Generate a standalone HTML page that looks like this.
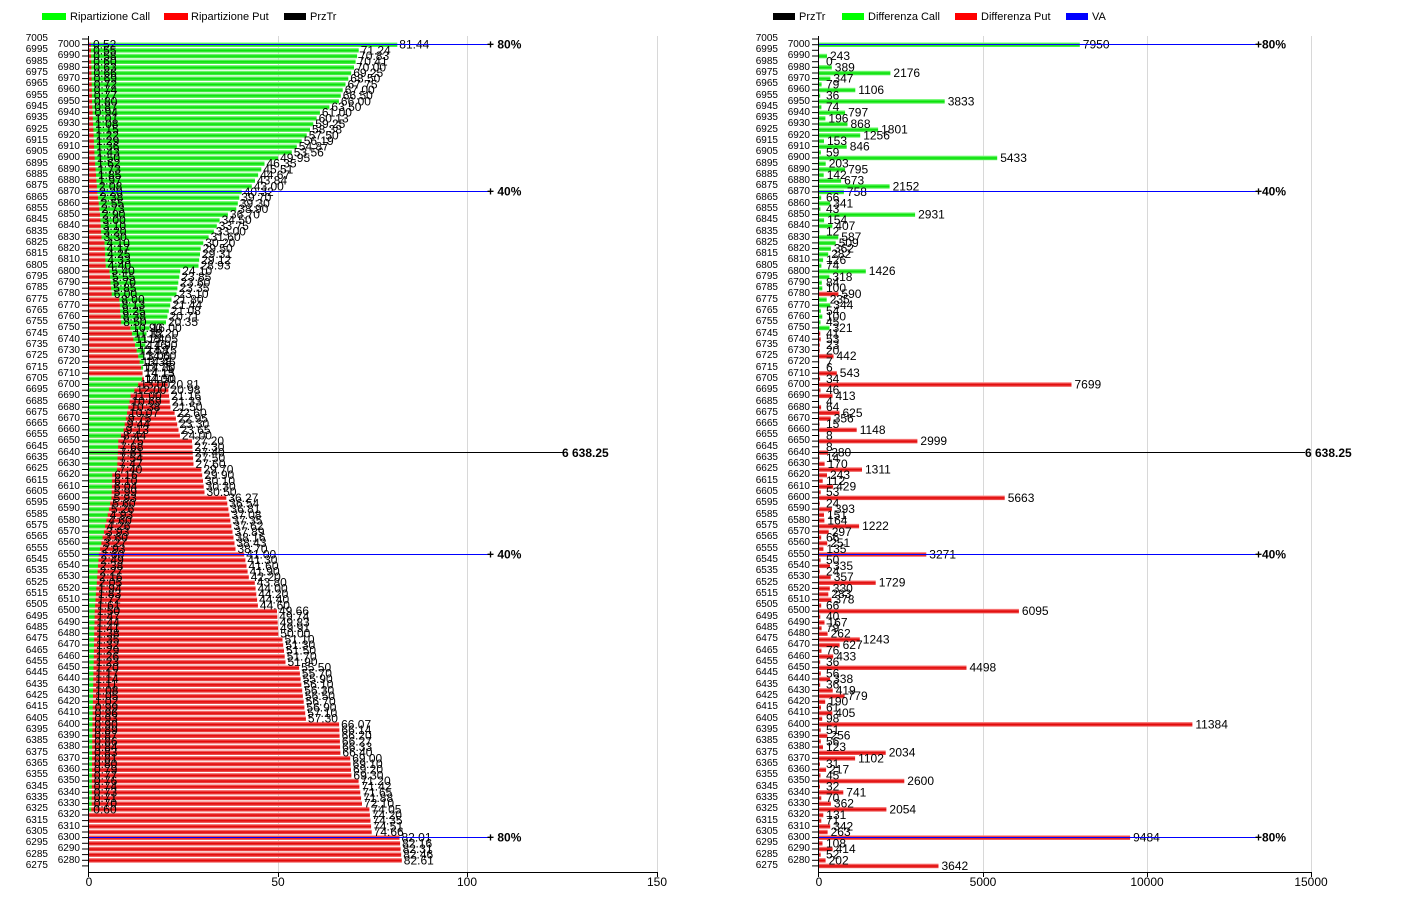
<!DOCTYPE html>
<html><head><meta charset="utf-8"><style>
body{margin:0;background:#fff;width:1407px;height:905px;overflow:hidden;position:relative;font-family:"Liberation Sans",sans-serif}
.yl{position:absolute;white-space:pre;text-align:right;font-size:10px;line-height:11.328px;color:#000}
svg{position:absolute;left:0;top:0}
</style></head><body>
<svg id="s" width="1407" height="905" xmlns="http://www.w3.org/2000/svg" font-family="Liberation Sans, sans-serif">
<defs>
<linearGradient id="gG" x1="0" y1="0" x2="0" y2="1"><stop offset="0" stop-color="#a0ffa0"/><stop offset="0.5" stop-color="#00e000"/><stop offset="1" stop-color="#60f060"/></linearGradient>
<linearGradient id="gR" x1="0" y1="0" x2="0" y2="1"><stop offset="0" stop-color="#ffa0a0"/><stop offset="0.5" stop-color="#e00000"/><stop offset="1" stop-color="#f06060"/></linearGradient>
</defs>
<g font-size="11">
<rect x="42" y="13" width="24" height="7" fill="#00ff00"/><text x="70" y="20">Ripartizione Call</text>
<rect x="164" y="13" width="24" height="7" fill="#ff0000"/><text x="191" y="20">Ripartizione Put</text>
<rect x="284" y="13" width="22" height="7" fill="#000"/><text x="310" y="20">PrzTr</text>
<rect x="773" y="13" width="22" height="7" fill="#000"/><text x="799" y="20">PrzTr</text>
<rect x="842" y="13" width="22" height="7" fill="#00ff00"/><text x="868" y="20">Differenza Call</text>
<rect x="955" y="13" width="22" height="7" fill="#ff0000"/><text x="981" y="20">Differenza Put</text>
<rect x="1066" y="13" width="22" height="7" fill="#0000ff"/><text x="1092" y="20">VA</text>
</g>
<g stroke="#d8d8d8" stroke-width="1">
<line x1="278.5" y1="36" x2="278.5" y2="872"/><line x1="467.5" y1="36" x2="467.5" y2="872"/><line x1="657.5" y1="36" x2="657.5" y2="872"/>
<line x1="983.5" y1="36" x2="983.5" y2="872"/><line x1="1147.5" y1="36" x2="1147.5" y2="872"/><line x1="1311.5" y1="36" x2="1311.5" y2="872"/>
</g>
<g id="bars"></g>
<g stroke="#000" stroke-width="1">
<line x1="88.5" y1="36" x2="88.5" y2="872"/><line x1="88" y1="872.5" x2="658" y2="872.5"/>
<line x1="88.5" y1="872" x2="88.5" y2="877"/><line x1="278.5" y1="872" x2="278.5" y2="877"/><line x1="467.5" y1="872" x2="467.5" y2="877"/><line x1="657.5" y1="872" x2="657.5" y2="877"/>
<line x1="818.5" y1="36" x2="818.5" y2="872"/><line x1="818" y1="872.5" x2="1312" y2="872.5"/>
<line x1="818.5" y1="872" x2="818.5" y2="877"/><line x1="983.5" y1="872" x2="983.5" y2="877"/><line x1="1147.5" y1="872" x2="1147.5" y2="877"/><line x1="1311.5" y1="872" x2="1311.5" y2="877"/>
</g>
<g id="ticks" stroke="#000"></g>
<g font-size="12" text-anchor="middle">
<text x="89" y="886">0</text><text x="278" y="886">50</text><text x="467" y="886">100</text><text x="657" y="886">150</text>
<text x="819" y="886">0</text><text x="983" y="886">5000</text><text x="1147" y="886">10000</text><text x="1311" y="886">15000</text>
</g>
<g id="lab" font-size="12"></g>
<g stroke="#0000ff" stroke-width="1">
<line x1="89" y1="44.5" x2="490" y2="44.5"/><line x1="89" y1="191.5" x2="490" y2="191.5"/><line x1="89" y1="554.5" x2="490" y2="554.5"/><line x1="89" y1="837.5" x2="490" y2="837.5"/>
<line x1="819" y1="44.5" x2="1258" y2="44.5"/><line x1="819" y1="191.5" x2="1258" y2="191.5"/><line x1="819" y1="554.5" x2="1258" y2="554.5"/><line x1="819" y1="837.5" x2="1258" y2="837.5"/>
</g>
<line x1="89" y1="452.5" x2="565" y2="452.5" stroke="#000"/>
<line x1="819" y1="452.5" x2="1305" y2="452.5" stroke="#000"/>
<g font-size="12" font-weight="bold">
<text x="487" y="48.5">+ 80%</text><text x="487" y="195.5">+ 40%</text><text x="487" y="558.5">+ 40%</text><text x="487" y="841.5">+ 80%</text>
<text x="1255" y="48.5">+80%</text><text x="1255" y="195.5">+40%</text><text x="1255" y="558.5">+40%</text><text x="1255" y="841.5">+80%</text>
<text x="562" y="457">6 638.25</text><text x="1305" y="457">6 638.25</text>
</g>
</svg>
<div class="yl" style="left:10px;top:33px;width:38px">7005
6995
6985
6975
6965
6955
6945
6935
6925
6915
6905
6895
6885
6875
6865
6855
6845
6835
6825
6815
6805
6795
6785
6775
6765
6755
6745
6735
6725
6715
6705
6695
6685
6675
6665
6655
6645
6635
6625
6615
6605
6595
6585
6575
6565
6555
6545
6535
6525
6515
6505
6495
6485
6475
6465
6455
6445
6435
6425
6415
6405
6395
6385
6375
6365
6355
6345
6335
6325
6315
6305
6295
6285
6275</div>
<div class="yl" style="left:40px;top:39px;width:40px">7000
6990
6980
6970
6960
6950
6940
6930
6920
6910
6900
6890
6880
6870
6860
6850
6840
6830
6820
6810
6800
6790
6780
6770
6760
6750
6740
6730
6720
6710
6700
6690
6680
6670
6660
6650
6640
6630
6620
6610
6600
6590
6580
6570
6560
6550
6540
6530
6520
6510
6500
6490
6480
6470
6460
6450
6440
6430
6420
6410
6400
6390
6380
6370
6360
6350
6340
6330
6320
6310
6300
6290
6280</div>
<div class="yl" style="left:740px;top:33px;width:38px">7005
6995
6985
6975
6965
6955
6945
6935
6925
6915
6905
6895
6885
6875
6865
6855
6845
6835
6825
6815
6805
6795
6785
6775
6765
6755
6745
6735
6725
6715
6705
6695
6685
6675
6665
6655
6645
6635
6625
6615
6605
6595
6585
6575
6565
6555
6545
6535
6525
6515
6505
6495
6485
6475
6465
6455
6445
6435
6425
6415
6405
6395
6385
6375
6365
6355
6345
6335
6325
6315
6305
6295
6285
6275</div>
<div class="yl" style="left:770px;top:39px;width:40px">7000
6990
6980
6970
6960
6950
6940
6930
6920
6910
6900
6890
6880
6870
6860
6850
6840
6830
6820
6810
6800
6790
6780
6770
6760
6750
6740
6730
6720
6710
6700
6690
6680
6670
6660
6650
6640
6630
6620
6610
6600
6590
6580
6570
6560
6550
6540
6530
6520
6510
6500
6490
6480
6470
6460
6450
6440
6430
6420
6410
6400
6390
6380
6370
6360
6350
6340
6330
6320
6310
6300
6290
6280</div>
<script>
var NS="http://www.w3.org/2000/svg";
function el(p,t,a,txt){var e=document.createElementNS(NS,t);for(var k in a)e.setAttribute(k,a[k]);if(txt!=null)e.textContent=txt;p.appendChild(e);return e;}
var bars=document.getElementById('bars'),lab=document.getElementById('lab'),tk=document.getElementById('ticks');
function Y(i){return 39+i*5.664;}
function interp(an,s){for(var j=0;j<an.length-1;j++){var a=an[j],b=an[j+1];if(s<=a[0]&&s>=b[0]){if(a[0]==b[0])return a[1];return b[1]+(a[1]-b[1])*(s-b[0])/(a[0]-b[0]);}}return 0;}
var callA=[[7000,81.44],[6995,71.24],[6980,70],[6960,67],[6950,66],[6940,61],[6920,57.5],[6905,53.56],[6895,46.35],[6875,43],[6870,40.32],[6865,39.7],[6855,38.9],[6845,34.5],[6835,33],[6825,30.2],[6820,29.5],[6805,28.93],[6800,24.1],[6780,23.1],[6775,21.8],[6755,20.35],[6750,16],[6745,15.2],[6705,14],[6690,11],[6660,9.13],[6650,7.75],[6625,7.4],[6620,6.16],[6600,5.93],[6550,2.6],[6500,1.5],[6450,1.2],[6400,0.9],[6330,0.7],[6325,0.6],[6324,0],[6275,0]];
var putA=[[7000,0.52],[6950,0.8],[6900,1.5],[6870,2.2],[6850,2.9],[6830,3.3],[6825,4.1],[6805,4.4],[6800,5.4],[6780,6.0],[6775,8],[6755,8.5],[6750,10.9],[6725,13],[6705,14.5],[6700,20.81],[6680,21.5],[6675,22.6],[6655,24.0],[6650,27.2],[6630,27.6],[6625,29.7],[6605,30.5],[6600,36.27],[6555,38.7],[6550,41.0],[6530,42.2],[6525,43.8],[6505,44.6],[6500,49.66],[6480,50],[6475,51.1],[6455,51.9],[6450,55.5],[6405,57.3],[6400,66.07],[6375,66.4],[6370,69.0],[6355,69.3],[6350,71.2],[6330,72.1],[6325,74.05],[6305,74.66],[6300,82.01],[6280,82.61],[6279,0],[6275,0]];
var R=[0,7950,null,243,0,389,2176,347,79,1106,36,3833,74,797,196,868,1801,1256,153,846,59,5433,203,795,142,673,2152,758,66,341,43,2931,154,407,12,587,509,362,282,126,74,1426,318,84,100,590,235,344,54,100,45,321,41,53,23,20,442,7,6,543,34,7699,46,413,4,64,625,356,15,1148,8,2999,8,280,14,170,1311,243,112,429,53,5663,24,393,151,164,1222,297,66,251,135,3271,50,335,24,357,1729,330,283,378,66,6095,40,167,79,262,1243,627,76,433,36,4498,56,338,36,419,779,190,61,405,98,11384,51,256,56,123,2034,1102,31,217,45,2600,32,741,70,362,2054,131,71,342,263,9484,108,414,52,202,3642];
for(var i=0;i<147;i++){
 var s=7005-5*i,y=Y(i);
 el(tk,'line',{x1:82,y1:y.toFixed(1),x2:88,y2:y.toFixed(1)});
 el(tk,'line',{x1:812,y1:y.toFixed(1),x2:818,y2:y.toFixed(1)});
 if(i>0){
  var c=interp(callA,s),p=interp(putA,s);
  var cw=c*3.786,pw=p*3.786;
  var first=cw>=pw?[cw,'url(#gG)']:[pw,'url(#gR)'],sec=cw>=pw?[pw,'url(#gR)']:[cw,'url(#gG)'];
  if(first[0]>0)el(bars,'rect',{x:89,y:(y-2.3).toFixed(1),width:first[0].toFixed(1),height:4.6,fill:first[1]});
  if(sec[0]>0)el(bars,'rect',{x:89,y:(y-2.3).toFixed(1),width:sec[0].toFixed(1),height:4.6,fill:sec[1]});
  if(c>0)el(lab,'text',{x:(91+cw).toFixed(1),y:(y+4).toFixed(1)},c.toFixed(2));
  if(p>0)el(lab,'text',{x:(91+pw).toFixed(1),y:(y+4).toFixed(1)},p.toFixed(2));
 }
 var v=R[i];
 if(i>0&&v!=null&&v!==undefined){
  var w=v*0.0328,g=(s>=6750&&s!=6780);
  if(w>0)el(bars,'rect',{x:819,y:(y-2.3).toFixed(1),width:w.toFixed(1),height:4.6,fill:g?'url(#gG)':'url(#gR)'});
  el(lab,'text',{x:(822+Math.max(w,4)).toFixed(1),y:(y+4).toFixed(1)},String(v));
 }
}
</script>
</body></html>
